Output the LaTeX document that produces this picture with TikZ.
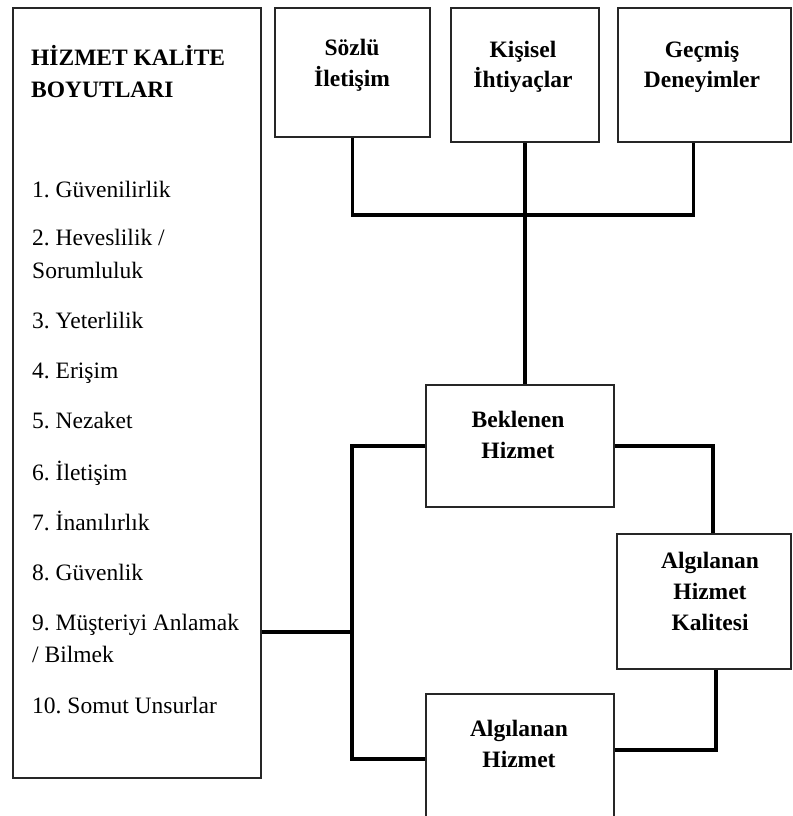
\documentclass[tikz,border=0pt]{standalone}
\usepackage{fontspec}
\setmainfont{Liberation Serif}
\frenchspacing

\begin{document}
\begin{tikzpicture}[
        x=1pt, y=-1pt,
        kutu/.style={rectangle, draw=black!85, line width=1.5pt, inner sep=0pt},
        baslik/.style={font=\fontsize{23.5}{31}\selectfont\bfseries, align=center, anchor=base, inner sep=0pt},
        madde/.style={font=\fontsize{23.5}{32}\selectfont, anchor=base west, inner sep=0pt},
        baglanti/.style={draw, line width=3.2pt}
        ]
        \useasboundingbox (0,0) rectangle (792,816);

        % sol kutu: hizmet kalite boyutlari
        \node [kutu, minimum width=248pt, minimum height=770pt] (boyut) at (137,393) {};
        \node [madde, font=\fontsize{23.5}{32}\selectfont\bfseries, align=left] (boyut-t) at (31,97) {HİZMET KALİTE\\BOYUTLARI};
        \foreach \y/\metin [count=\i] in {197/{1. Güvenilirlik}, 245/{2. Heveslilik /}, 278/{Sorumluluk},
                328/{3. Yeterlilik}, 378/{4. Erişim}, 428/{5. Nezaket}, 480/{6. İletişim},
                530/{7. İnanılırlık}, 580/{8. Güvenlik}, 630/{9. Müşteriyi Anlamak},
                662/{/ Bilmek}, 713/{10. Somut Unsurlar}}
            \node [madde] (madde-\i) at (32,\y) {\metin};

        % ust kutular
        \node [kutu, minimum width=155pt, minimum height=129pt] (sozlu) at (352.5,72.5) {};
        \node [baslik] (sozlu-t) at (352,86) {Sözlü\\İletişim};
        \node [kutu, minimum width=148pt, minimum height=134pt] (kisisel) at (525,75) {};
        \node [baslik] (kisisel-t) at (523,88) {Kişisel\\İhtiyaçlar};
        \node [kutu, minimum width=173pt, minimum height=134pt] (gecmis) at (704.5,75) {};
        \node [baslik] (gecmis-t) at (702,88) {Geçmiş\\Deneyimler};

        % orta ve sag kutular
        \node [kutu, minimum width=188pt, minimum height=122pt] (beklenen) at (520,446) {};
        \node [baslik] (beklenen-t) at (518,458) {Beklenen\\Hizmet};
        \node [kutu, minimum width=174pt, minimum height=135pt] (kalite) at (704,601.5) {};
        \node [baslik] (kalite-t) at (710,630) {Algılanan\\Hizmet\\Kalitesi};
        \node [kutu, minimum width=188pt, minimum height=130pt] (algilanan) at (520,759) {};
        \node [baslik] (algilanan-t) at (519,767) {Algılanan\\Hizmet};

        \coordinate (bar) at (526,215);
        \coordinate (sol) at (352,632);

        \draw[baglanti] (sozlu.south) |- (bar) -| ([xshift=-11pt]gecmis.south);
        \draw[baglanti] (kisisel.south) -- (kisisel.south |- beklenen.north);
        \draw[baglanti] (sol -| boyut.east) -- (sol);
        \draw[baglanti] (beklenen.west) -| (sol) |- (algilanan.west);
        \draw[baglanti] (beklenen.east) -| ([xshift=9pt]kalite.north);
        \draw[baglanti] ([xshift=12pt]kalite.south) |- ([yshift=9pt]algilanan.east);
    \end{tikzpicture}
\end{document}
